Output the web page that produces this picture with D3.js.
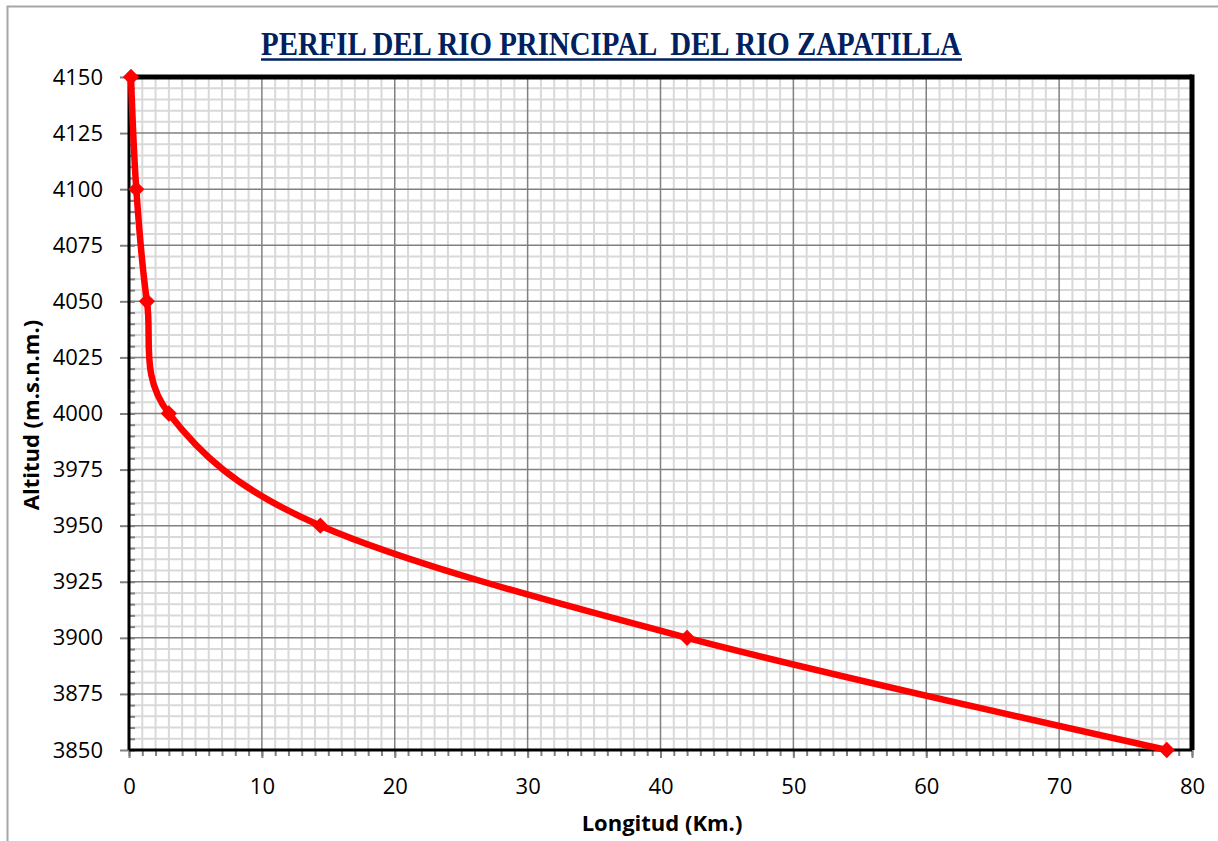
<!DOCTYPE html>
<html>
<head>
<meta charset="utf-8">
<script src="https://cdn.jsdelivr.net/npm/d3@7"></script>
<style>
	body { margin: 0; background: #fff; }
	svg { display: block; }
	.tick text { font-family: "Open Sans", Lato, sans-serif; font-size: 22px; fill: #000; }
</style>
</head>
<body>
<script>
// river profile points
var longitud = [0.15, 0.55, 1.35, 3.0, 14.4, 42.0, 78.1];
var altitud = [4150, 4100, 4050, 4000, 3950, 3900, 3850];
var x_ticks = [0, 10, 20, 30, 40, 50, 60, 70, 80];
var y_ticks = [3850, 3875, 3900, 3925, 3950, 3975, 4000, 4025, 4050, 4075, 4100, 4125, 4150];

var title_text = "PERFIL DEL RIO PRINCIPAL  DEL RIO ZAPATILLA";
var x_title = "Longitud (Km.)";
var y_title = "Altitud (m.s.n.m.)";

// set the dimensions and margins of the graph
var margin = {top: 77, right: 26, bottom: 91, left: 129},
	width = 1218 - margin.left - margin.right,
	height = 841 - margin.top - margin.bottom;

var svg_root = d3.select("body").append("svg")
	.attr("width", 1218)
	.attr("height", 841);

// outer chart border
svg_root.append("rect")
	.attr("x", 7.5).attr("y", 6.5)
	.attr("width", 1230).attr("height", 860)
	.attr("fill", "none")
	.attr("stroke", "#a6a6a6")
	.attr("stroke-width", 2);

var svg = svg_root.append("g")
	.attr("transform", "translate(" + margin.left + "," + margin.top + ")");

// set the ranges
var x = d3.scaleLinear().domain([0, 80]).range([0, width]);
var y = d3.scaleLinear().domain([3850, 4150]).range([height, 0]);

// minor gridlines
svg.append("g").selectAll("line")
	.data(d3.range(1, 80).filter(function(d) { return d % 10 != 0; }))
	.enter().append("line")
	.attr("x1", function(d) { return x(d); }).attr("x2", function(d) { return x(d); })
	.attr("y1", 0).attr("y2", height)
	.attr("stroke", "#d9d9d9").attr("stroke-width", 2);
svg.append("g").selectAll("line")
	.data(d3.range(3855, 4150, 5).filter(function(d) { return d % 25 != 0; }))
	.enter().append("line")
	.attr("y1", function(d) { return y(d); }).attr("y2", function(d) { return y(d); })
	.attr("x1", 0).attr("x2", width)
	.attr("stroke", "#d9d9d9").attr("stroke-width", 2);

// major gridlines
svg.append("g").selectAll("line")
	.data(x_ticks)
	.enter().append("line")
	.attr("x1", function(d) { return x(d); }).attr("x2", function(d) { return x(d); })
	.attr("y1", 0).attr("y2", height)
	.attr("stroke", "#808080").attr("stroke-width", 1.5);
svg.append("g").selectAll("line")
	.data(y_ticks)
	.enter().append("line")
	.attr("y1", function(d) { return y(d); }).attr("y2", function(d) { return y(d); })
	.attr("x1", 0).attr("x2", width)
	.attr("stroke", "#808080").attr("stroke-width", 1.5);

// minor ticks
svg.append("g")
	.attr("transform", "translate(0," + height + ")")
	.call(d3.axisBottom(x).tickValues(d3.range(0, 81)).tickSize(6).tickFormat(""))
	.call(function(g) { g.select(".domain").remove(); g.selectAll("line").attr("stroke", "#808080").attr("stroke-width", 2); });
svg.append("g")
	.call(d3.axisLeft(y).tickValues(d3.range(3850, 4151, 5)).tickSize(-6).tickFormat(""))
	.call(function(g) { g.select(".domain").remove(); g.selectAll("line").attr("stroke", "#808080").attr("stroke-width", 2); });

// add the x-axis
svg.append("g")
	.attr("transform", "translate(0," + height + ")")
	.call(d3.axisBottom(x).tickValues(x_ticks).tickSize(8).tickPadding(20).tickFormat(d3.format("d")))
	.call(function(g) { g.select(".domain").remove(); g.selectAll("line").attr("stroke", "#808080").attr("stroke-width", 2); });

// add the y-axis
svg.append("g")
	.call(d3.axisLeft(y).tickValues(y_ticks).tickSize(9).tickPadding(17).tickFormat(d3.format("d")))
	.call(function(g) { g.select(".domain").remove(); g.selectAll("line").attr("stroke", "#808080").attr("stroke-width", 2); });

// plot area border: thick top and right, thinner axes
svg.append("line").attr("x1", 0).attr("x2", width).attr("y1", 0).attr("y2", 0)
	.attr("stroke", "#000").attr("stroke-width", 5);
svg.append("line").attr("x1", width).attr("x2", width).attr("y1", -2.5).attr("y2", height)
	.attr("stroke", "#000").attr("stroke-width", 5);
svg.append("line").attr("x1", 0).attr("x2", width).attr("y1", height).attr("y2", height)
	.attr("stroke", "#000").attr("stroke-width", 3);
svg.append("line").attr("x1", 0).attr("x2", 0).attr("y1", 0).attr("y2", height)
	.attr("stroke", "#000").attr("stroke-width", 3);

// profile line
var points = longitud.map(function(d, i) { return [d, altitud[i]]; });
var profile_line = d3.line()
	.x(function(d) { return x(d[0]); })
	.y(function(d) { return y(d[1]); })
	.curve(d3.curveCardinal.tension(0));

svg.append("path")
	.datum(points)
	.attr("d", profile_line)
	.attr("fill", "none")
	.attr("stroke", "#ff0000")
	.attr("stroke-width", 6.5)
	.attr("stroke-linejoin", "round");

// diamond markers
svg.append("g").selectAll("path")
	.data(points)
	.enter().append("path")
	.attr("transform", function(d) { return "translate(" + x(d[0]) + "," + y(d[1]) + ")"; })
	.attr("d", d3.symbol().type(d3.symbolDiamond2).size(170))
	.attr("fill", "#ff0000");

// title
svg_root.append("text")
	.attr("x", 611)
	.attr("y", 55)
	.attr("text-anchor", "middle")
	.attr("font-family", "'Liberation Serif', 'DejaVu Serif', serif")
	.attr("font-weight", "bold")
	.attr("font-size", 33)
	.attr("fill", "#002060")
	.attr("textLength", 700)
	.attr("lengthAdjust", "spacingAndGlyphs")
	.style("white-space", "pre")
	.text(title_text);
svg_root.append("line")
	.attr("x1", 261).attr("x2", 962)
	.attr("y1", 59.5).attr("y2", 59.5)
	.attr("stroke", "#002060").attr("stroke-width", 2.5);

// axis titles
svg_root.append("text")
	.attr("x", 662)
	.attr("y", 831)
	.attr("text-anchor", "middle")
	.attr("font-family", "'Open Sans', Lato, sans-serif")
	.attr("font-weight", "bold")
	.attr("font-size", 22)
	.text(x_title);
svg_root.append("text")
	.attr("transform", "translate(39,415) rotate(-90)")
	.attr("text-anchor", "middle")
	.attr("font-family", "'Open Sans', Lato, sans-serif")
	.attr("font-weight", "bold")
	.attr("font-size", 22)
	.text(y_title);
</script>
</body>
</html>
